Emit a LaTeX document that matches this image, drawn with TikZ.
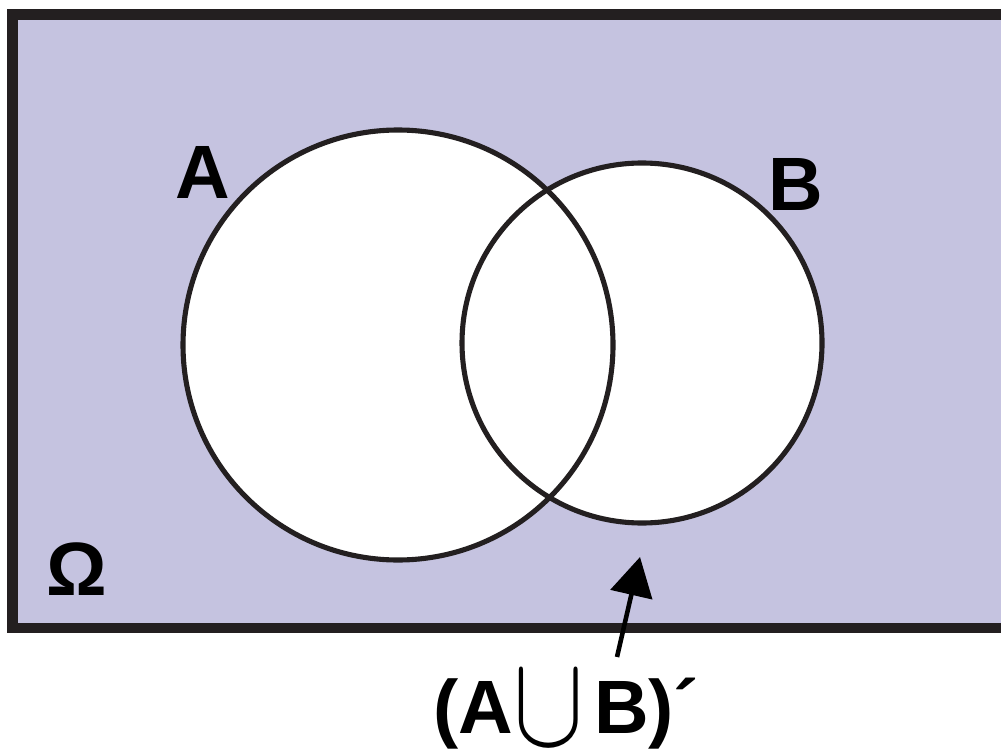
\documentclass[tikz,border=0pt]{standalone}
\usepackage{fontspec}
\setmainfont{Liberation Sans}
\usepackage{graphicx}
\usepackage{xcolor}
\usetikzlibrary{arrows.meta}
\definecolor{fondo}{RGB}{197,195,224}
\definecolor{trazo}{RGB}{35,31,32}

\begin{document}
\begin{tikzpicture}[
    x=0.01cm, y=-0.01cm,
    marco/.style={
        draw=trazo,
        line width=3.1pt,
        fill=fondo,
    },
    conjunto/.style={
        draw=trazo,
        line width=1.45pt,
    },
    etiqueta/.style={
        font=\fontsize{21.5}{26}\selectfont\bfseries,
        inner sep=0pt,
    },
    flecha/.style={-{Triangle[length=11pt,width=12pt]}, line width=1.3pt, color=black},
]

\useasboundingbox (0,0) rectangle (1001,749);
\clip (0,0) rectangle (1001,749);

% universo
\draw[marco] (12.5,14.5) rectangle (1006,628);

% conjuntos A y B
\fill[white] (398,345) circle (215);
\fill[white] (642,343) circle (180);
\draw[conjunto] (398,345) circle (215);
\draw[conjunto] (642,343) circle (180);

\node[etiqueta] (labA)   at (203,172) {A};
\node[etiqueta] (labB)   at (796,184) {B};
\node[etiqueta] (omega)  at (77,569)  {Ω};
\node[etiqueta, anchor=base west] (compl) at (433,733)
    {(A\raisebox{-0.12cm}{\mdseries\scalebox{1.45}[1.8]{$\cup$}}\kern0.1cm B)´};

\coordinate (cola) at (617,657);
\coordinate (punta) at (640,557);
\draw[flecha] (cola) -- (punta);

\end{tikzpicture}
\end{document}
